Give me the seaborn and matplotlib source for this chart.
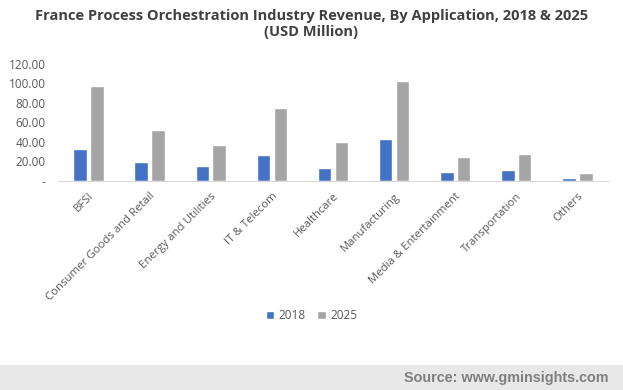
import pandas as pd
import seaborn as sns
import matplotlib.pyplot as plt
from matplotlib.patches import Rectangle

# chart data (USD Million)
applications = ["BFSI", "Consumer Goods and Retail", "Energy and Utilities",
                "IT & Telecom", "Healthcare", "Manufacturing",
                "Media & Entertainment", "Transportation", "Others"]
rev_2018 = [32.5, 19.0, 15.8, 26.3, 13.6, 42.8, 9.5, 11.6, 3.3]
rev_2025 = [97.5, 52.0, 36.5, 74.8, 39.6, 102.8, 25.0, 27.2, 8.5]
years = ["2018", "2025"]
y_ticks = [0, 20, 40, 60, 80, 100, 120]

df = pd.DataFrame({
    "application": applications * 2,
    "year": [years[0]] * len(applications) + [years[1]] * len(applications),
    "revenue": rev_2018 + rev_2025,
})

sns.set_style("white")
plt.rcParams["font.family"] = ["Open Sans", "DejaVu Sans"]

fig = plt.figure(figsize=(6.23, 3.90), dpi=100)
ax = fig.add_axes([0.093, 0.536, 0.883, 0.300])

sns.barplot(data=df, x="application", y="revenue", hue="year",
            palette=["#4472C4", "#A5A5A5"], width=0.55, gap=0.2,
            saturation=1, errorbar=None, ax=ax)

ax.set_ylim(0, 120)
ax.set_yticks(y_ticks)
ax.set_yticklabels(["-" if v == 0 else f"{v:.2f}" for v in y_ticks],
                   fontsize=8.5, color="#595959")
ax.set_xticks(range(len(applications)))
ax.set_xticklabels(applications, rotation=45, ha="right",
                   rotation_mode="anchor", fontsize=8.2, color="#595959")
ax.tick_params(axis="y", length=0, pad=9)
ax.tick_params(axis="x", length=0, pad=7)
ax.set_xlabel("")
ax.set_ylabel("")
ax.set_xlim(-0.5, len(applications) - 0.5)

for side in ["top", "right", "left"]:
    ax.spines[side].set_visible(False)
ax.spines["bottom"].set_color("#d9d9d9")
ax.grid(False)

ax.legend(loc="center", bbox_to_anchor=(0.5, 0.19), bbox_transform=fig.transFigure,
          ncol=2, frameon=False, fontsize=8.5, handlelength=0.7, handleheight=0.7,
          handletextpad=0.4, columnspacing=1.0, labelcolor="#595959")

fig.suptitle("France Process Orchestration Industry Revenue, By Application, 2018 & 2025\n(USD Million)",
             x=0.5, y=0.978, fontsize=10.5, fontweight="bold", color="#404040",
             linespacing=1.25)

# source band at the bottom
fig.patches.append(Rectangle((0, 0), 1, 0.064, transform=fig.transFigure,
                             facecolor="#e8e8e8", edgecolor="none", zorder=0))
fig.text(0.976, 0.032, "Source: www.gminsights.com", ha="right", va="center",
         fontsize=10.4, fontweight="bold", color="#7f7f7f", family="Liberation Sans")

fig.savefig("out.png", dpi=100)
